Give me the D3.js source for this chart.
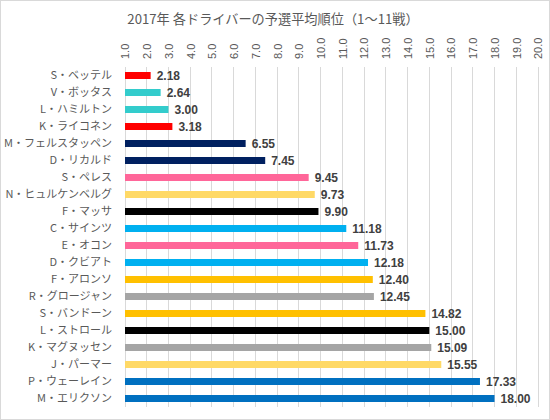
<!DOCTYPE html>
<html><head><meta charset="utf-8">
<script src="https://cdn.jsdelivr.net/npm/d3@7"></script>
<style>
html,body{margin:0;padding:0;background:#fff;}
svg{display:block;}
</style></head>
<body>
<svg id="chart" width="550" height="420"></svg>
<script>
const title = "2017年 各ドライバーの予選平均順位（1～11戦）";
const drivers = ["S・ベッテル","V・ボッタス","L・ハミルトン","K・ライコネン","M・フェルスタッペン","D・リカルド","S・ペレス","N・ヒュルケンベルグ","F・マッサ","C・サインツ","E・オコン","D・クビアト","F・アロンソ","R・グロージャン","S・バンドーン","L・ストロール","K・マグヌッセン","J・パーマー","P・ウェーレイン","M・エリクソン"];
const values = [2.18,2.64,3.00,3.18,6.55,7.45,9.45,9.73,9.90,11.18,11.73,12.18,12.40,12.45,14.82,15.00,15.09,15.55,17.33,18.00];
const colors = ["#ff0000","#33cccc","#33cccc","#ff0000","#002060","#002060","#ff6699","#ffd966","#000000","#00b0f0","#ff6699","#00b0f0","#ffc000","#a5a5a5","#ffc000","#000000","#a5a5a5","#ffd966","#0070c0","#0070c0"];
const ticks = d3.range(1, 21, 1);

const svg = d3.select("#chart");
const font = "'Noto Sans CJK JP', 'Noto Sans', sans-serif";

svg.append("rect").attr("x",0.5).attr("y",0.5).attr("width",549).attr("height",419)
  .attr("fill","#fff").attr("stroke","#d9d9d9");

svg.append("text").attr("x",273).attr("y",24).attr("text-anchor","middle")
  .attr("font-family",font).attr("font-size",13.2).attr("fill","#595959").text(title);

const x = d3.scaleLinear().domain([1,20]).range([125,538]);
const y = d3.scaleBand().domain(drivers).range([67,407]);

// gridlines
svg.append("g").selectAll("line").data(ticks).join("line")
  .attr("x1",d=>x(d)).attr("x2",d=>x(d)).attr("y1",67).attr("y2",407)
  .attr("stroke","#d9d9d9").attr("stroke-width",1).attr("shape-rendering","crispEdges");

// top axis labels
const axis = d3.axisTop(x).tickValues(ticks).tickFormat(d3.format(".1f")).tickSize(0);
const ag = svg.append("g").attr("transform","translate(0,67)").call(axis);
ag.select(".domain").remove();
ag.selectAll("text")
  .attr("font-family","'Liberation Sans', Arial, sans-serif").attr("font-size",11).attr("fill","#595959")
  .attr("transform","translate(0,-8) rotate(-90)")
  .attr("text-anchor","start").attr("x",0).attr("y",0).attr("dy","0.35em");

// bars
const bh = 7;
svg.append("g").selectAll("rect").data(values).join("rect")
  .attr("x",x(1)).attr("y",(d,i)=>y(drivers[i]) + y.bandwidth()/2 - bh/2)
  .attr("width",d=>x(d)-x(1)).attr("height",bh).attr("fill",(d,i)=>colors[i]);

// value labels
svg.append("g").selectAll("text").data(values).join("text")
  .attr("x",d=>x(d)+6).attr("y",(d,i)=>y(drivers[i]) + y.bandwidth()/2).attr("dy","0.36em")
  .attr("font-family","'Liberation Sans', Arial, sans-serif").attr("font-weight","bold")
  .attr("font-size",12).attr("fill","#404040").text(d=>d.toFixed(2));

// category labels
svg.append("g").selectAll("text").data(drivers).join("text")
  .attr("x",112).attr("y",d=>y(d)+y.bandwidth()/2).attr("dy","0.36em").attr("text-anchor","end")
  .attr("font-family",font).attr("font-size",11).attr("fill","#595959").text(d=>d);
</script>
</body></html>
